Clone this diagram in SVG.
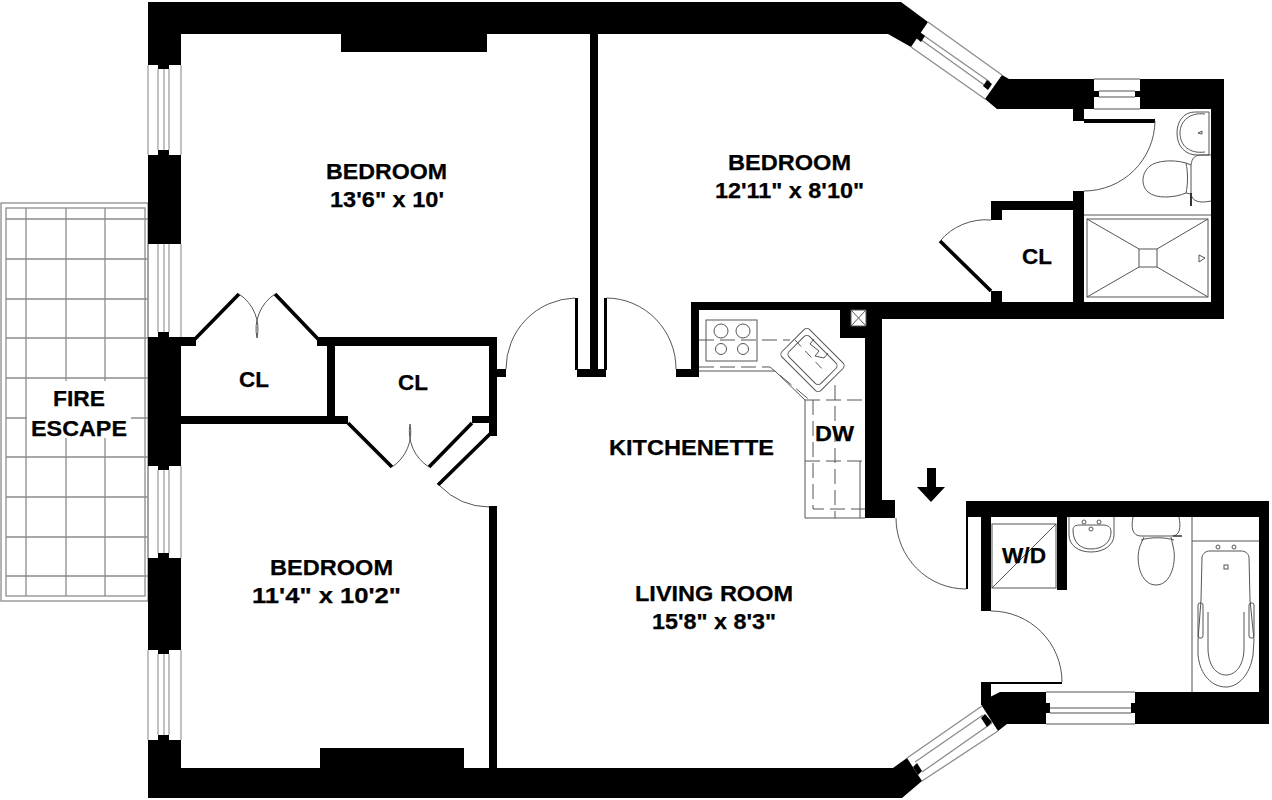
<svg xmlns="http://www.w3.org/2000/svg" width="1272" height="800" viewBox="0 0 1272 800">
<style>
.w{fill:#000;stroke:none}
.g{fill:none;stroke:#8c8c8c;stroke-width:1.3}
.win{fill:#fff;stroke:#999;stroke-width:1.2}
.f{fill:none;stroke:#555;stroke-width:1}
.d{fill:none;stroke:#555;stroke-width:1;stroke-dasharray:15 6}
.l{fill:none;stroke:#000;stroke-width:3.6}
text{font-family:"Liberation Sans",Arial,sans-serif;font-weight:700;font-size:22.5px;fill:#000;stroke:#000;stroke-width:.25}
</style>
<rect width="1272" height="800" fill="#fff"/>
<g id="fire-escape">
<rect class="g" x="1" y="203" width="147" height="398"/>
<rect class="g" x="6" y="208" width="139" height="388"/>
<path class="g" d="M26 208V596M66 208V596M105 208V596M6 219H148M6 259H148M6 299H148M6 338H148M6 378H148M6 418H148M6 457H148M6 497H148M6 537H148M6 576H148"/>
<rect x="27" y="381" width="104" height="57" fill="#fff"/>
</g>
<g id="walls">
<path class="w" d="M148 2H901L928 22L911 47L888 34H181V65H148Z"/>
<path class="w" d="M148 155H181V244H148ZM148 337H181V466H148ZM148 558H181V650H148Z"/>
<path class="w" d="M148 740H181V768H893L907 758L922 781L902 798H148Z"/>
<path class="w" d="M158 69V65H169V69ZM158 155V150H169V155ZM158 244V240H169V244ZM158 337V332H169V337ZM158 466V470H169V466ZM158 558V553H169V558ZM158 650V654H169V650ZM158 740V735H169V740Z"/>
<path class="w" d="M341 34H487V52H341ZM320 748H464V768H320Z"/>
<path class="w" d="M1002 75L1009 79H1094V109H997L985 99Z"/>
<path class="w" d="M1140 79H1224V319H882V302H1211V109H1140Z"/>
<path class="w" d="M691 302H882V310H866V338H840V310H699V377H676V369H691Z"/>
<path class="w" d="M865 302H882V500H895V518H865Z"/>
<path class="w" d="M1073 109H1084V121H1073ZM1073 191H1084V302H1073Z"/>
<path class="w" d="M991 201H1073V210H1002V220H991ZM991 291H1002V302H991Z"/>
<path class="w" d="M590 34H598V369H606V377H577V369H590Z"/>
<path class="w" d="M575 298H578V370H575ZM604 298H607V370H604Z"/>
<path class="w" d="M497 369H506V377H497Z"/>
<path class="w" d="M181 337H196V346H181ZM317 337H497V436H489V423H472V416H489V346H335V416H348V424H181V416H327V346H317Z"/>
<path class="w" d="M489 506H497V768H489Z"/>
<path class="w" d="M966 501H1269V724H1135V692H1259V517H1067V590H1057V517H991V611H981V517H968V589H966Z"/>
<path class="w" d="M981 682H1062V684H991V705H981Z"/>
<path class="w" d="M990 697L1000 692H1046V724H1007L998 731L982 706L981 702Z"/>
<path class="w" d="M1084 119H1155V123H1084Z"/>
<path class="w" d="M927 468H936V487H945L931 502L917 487H927Z"/>
<path d="M851 310H866V326H851Z" fill="#fff"/>
<path class="f" d="M851 310H866V326H851ZM851 310L866 326M866 310L851 326"/>
<path class="l" d="M195 339L239 294M275 294L318 339M348 423L392 467M429 467L472 423M438 485L491 433M940 241L991 291"/>
</g>
<g id="windows">
<path class="win" d="M148 65V155M181 65V155M158 69V150M164 69V150M169 69V150"/>
<path class="win" d="M148 244V337M181 244V337M158 244V332M164 244V332M169 244V332"/>
<path class="win" d="M148 466V558M181 466V558M158 470V553M164 470V553M169 470V553"/>
<path class="win" d="M148 650V740M181 650V740M158 654V735M164 654V735M169 654V735"/>
<path class="g" d="M928 22L1002 75M911 47L985 99M923 35L990 82M920 39L987 87"/>
<path class="w" d="M920 32L925 36L921 42L916 38ZM987 80L992 84L988 90L983 86Z"/>
<path class="g" d="M1094 79H1140M1094 109H1140M1099 91H1135M1099 97H1135"/>
<path class="w" d="M1094 91H1099V97H1094ZM1135 91H1140V97H1135Z"/>
<path class="g" d="M1046 692H1135M1046 724H1135M1050 708H1131M1050 713H1131"/>
<path class="w" d="M1046 703H1050V713H1046ZM1131 703H1135V713H1131Z"/>
<path class="g" d="M982 706L907 758M998 731L922 781M983 715L915 762M992 723L922 772"/>
<path class="w" d="M985 714L992 722L987 727L981 718ZM917 763L922 771L918 775L913 767Z"/>
</g>
<g id="door-swings">
<path class="f" d="M506 369A71 71 0 0 1 575 298M607 298A70 71 0 0 1 676 369"/>
<path class="f" d="M239 294A42 42 0 0 1 257 338M275 294A42 42 0 0 0 257 338"/>
<path class="f" d="M392 467A42 42 0 0 0 410 424M429 467A42 42 0 0 1 410 424"/>
<path class="f" d="M440 486A70 70 0 0 0 489 507"/>
<path class="f" d="M1155 121A71 71 0 0 1 1084 191"/>
<path class="f" d="M940 241A60 60 0 0 1 991 220"/>
<path class="f" d="M896 518A70 71 0 0 0 966 589"/>
<path class="f" d="M991 611A71 71 0 0 1 1062 682"/>
</g>
<g id="kitchen">
<rect class="f" x="706" y="320" width="51" height="41"/>
<circle class="f" cx="721" cy="331" r="7"/><circle class="f" cx="743" cy="331" r="7"/>
<circle class="f" cx="721" cy="349" r="5.5"/><circle class="f" cx="743" cy="349" r="5.5"/>
<path class="d" d="M699 340H790M699 367H770L812 402M805 400H865M805 461H865M813 400V509H865M835 385V518"/>
<path class="f" d="M699 371H775L805 400V518H865M860 461V518"/>
<rect class="f" x="785" y="340.500" width="55" height="39" rx="4" transform="rotate(45 812.500 360)"/>
<rect class="f" x="790" y="345.500" width="45" height="29" rx="4" transform="rotate(45 812.500 360)"/>
<path class="f" d="M814 339L810 344L819 351L815 356M828 353L824 358L815 356"/>
<path class="d" style="stroke-dasharray:9 6" d="M795 340L825 372"/>
</g>
<g id="bath-top">
<path class="f" d="M1084 215H1211"/>
<rect class="f" x="1087" y="219" width="121" height="78"/>
<rect class="f" x="1139" y="249" width="18" height="18"/>
<path class="f" d="M1087 219L1139 249M1208 219L1157 249M1087 297L1139 267M1208 297L1157 267"/>
<path class="f" d="M1199 255V262L1205 258Z"/>
<path class="f" d="M1209 112H1195C1183 112 1177 122 1177 133C1177 147 1186 155 1197 155H1209"/>
<path class="f" d="M1205 114C1190 112 1180 121 1180 133C1180 146 1190 154 1205 152"/>
<path class="f" d="M1209 112V155M1202 134L1198 133L1202 131Z"/>
<path class="f" d="M1186 163C1172 159 1156 161 1150 166C1141 173 1141 186 1148 192C1156 199 1174 198 1186 193C1188 184 1188 172 1186 163Z"/>
<path class="f" d="M1211 155H1201C1195 155 1192 158 1191 165V194C1192 200 1197 204 1211 201"/>
<path class="f" d="M1186 163L1191 165M1186 193L1191 194"/>
<path d="M1191 193V206" stroke="#333" stroke-width="2" fill="none"/>
</g>
<g id="bath-bottom">
<path class="f" d="M1069 517V535C1069 545 1078 552 1091 552C1104 552 1114 545 1114 535V517"/>
<path class="f" d="M1073 530C1073 526 1076 525 1080 525H1103C1108 525 1111 527 1111 532C1111 542 1103 549 1091 549C1080 549 1073 542 1073 530Z"/>
<circle class="f" cx="1084" cy="522" r="2"/><circle class="f" cx="1099" cy="522" r="2"/><circle class="f" cx="1091" cy="529" r="2"/>
<path class="f" d="M1133 517C1131 527 1132 536 1141 536H1172C1180 536 1181 527 1179 517"/>
<path class="f" d="M1144 537L1140 546C1135 560 1140 585 1156 585C1172 585 1177 560 1173 546L1171 537"/>
<path class="f" d="M1141 540C1150 537 1165 537 1174 540"/>
<path d="M1173 536H1182" stroke="#333" stroke-width="1.500" fill="none"/>
<rect class="f" x="992" y="524" width="64" height="64"/>
<path class="f" d="M992 588L1056 524"/>
<path class="f" d="M1192 517V692M1192 541H1259"/>
<path class="f" d="M1202 557C1203 553 1206 551 1210 551H1241C1245 551 1248 553 1249 557L1250 600L1254 640L1253 655C1250 675 1238 687 1226 687C1212 687 1200 675 1198 655L1198 640L1201 600Z"/>
<path class="f" d="M1208 612V648C1208 665 1216 675 1226 675C1236 675 1244 665 1244 648V612"/>
<rect class="f" x="1198" y="603" width="5" height="35" rx="2"/><rect class="f" x="1249" y="603" width="5" height="35" rx="2"/>
<circle class="f" cx="1218" cy="547" r="2"/><circle class="f" cx="1234" cy="547" r="2"/>
<rect class="f" x="1224" y="565" width="4" height="4"/>
</g>
<g id="labels">
<text x="326" y="179" textLength="121" lengthAdjust="spacingAndGlyphs">BEDROOM</text>
<text x="330" y="207" textLength="114" lengthAdjust="spacingAndGlyphs">13'6" x 10'</text>
<text x="728" y="170" textLength="123" lengthAdjust="spacingAndGlyphs">BEDROOM</text>
<text x="715" y="198" textLength="149" lengthAdjust="spacingAndGlyphs">12'11" x 8'10"</text>
<text x="270" y="575" textLength="123" lengthAdjust="spacingAndGlyphs">BEDROOM</text>
<text x="252" y="603" textLength="149" lengthAdjust="spacingAndGlyphs">11'4" x 10'2"</text>
<text x="635" y="601" textLength="158" lengthAdjust="spacingAndGlyphs">LIVING ROOM</text>
<text x="652" y="629" textLength="124" lengthAdjust="spacingAndGlyphs">15'8" x 8'3"</text>
<text x="609" y="455" textLength="165" lengthAdjust="spacingAndGlyphs">KITCHENETTE</text>
<text x="53" y="406" textLength="52" lengthAdjust="spacingAndGlyphs">FIRE</text>
<text x="31" y="436" textLength="96" lengthAdjust="spacingAndGlyphs">ESCAPE</text>
<text x="239" y="387" textLength="30" lengthAdjust="spacingAndGlyphs">CL</text>
<text x="398" y="390" textLength="30" lengthAdjust="spacingAndGlyphs">CL</text>
<text x="1022" y="264" textLength="30" lengthAdjust="spacingAndGlyphs">CL</text>
<text x="815" y="441" textLength="39" lengthAdjust="spacingAndGlyphs">DW</text>
<text x="1002" y="563" textLength="44" lengthAdjust="spacingAndGlyphs">W/D</text>
</g>
</svg>
